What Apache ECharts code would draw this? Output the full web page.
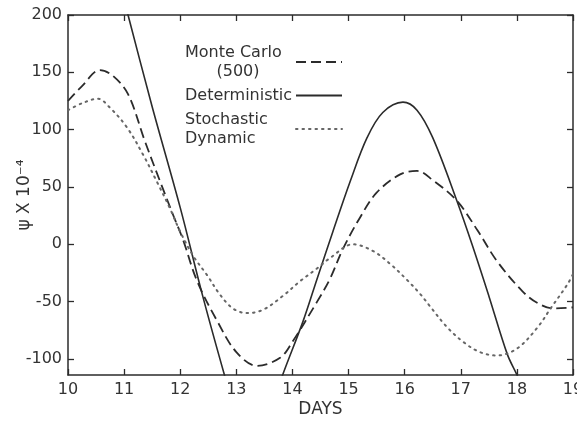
<!DOCTYPE html>
<html>
<head>
<meta charset="utf-8">
<script src="https://cdn.jsdelivr.net/npm/echarts@6/dist/echarts.min.js"></script>
<style>html,body{margin:0;padding:0;background:#fff;}#c{width:577px;height:425px;}</style>
</head>
<body>
<div id="c"></div>
<script>
// ---- data ----
const xTicks = [10, 11, 12, 13, 14, 15, 16, 17, 18, 19];
const yTicks = [-100, -50, 0, 50, 100, 150, 200];

const mcDays = [10.0, 10.25, 10.57, 10.8, 11.07, 11.37, 11.64, 11.87, 12.05, 12.3, 12.66, 13.0, 13.37, 13.78, 14.0, 14.44, 14.67, 14.9, 15.2, 15.5, 15.92, 16.22, 16.5, 16.93, 17.3, 17.65, 18.1, 18.36, 18.65, 19.0];
const mcVals = [125, 138, 152, 147, 131, 90, 55, 26, 4, -32, -67, -94, -106, -99, -85, -50, -30, -4, 23, 45, 61, 64, 56, 38, 12, -15, -41, -51, -56, -55];

const detDays = [10.9, 11.07, 11.5, 12.0, 12.4, 12.8, 12.95, 13.3, 13.65, 13.81, 14.19, 14.44, 14.72, 15.03, 15.33, 15.61, 15.97, 16.22, 16.5, 16.93, 17.2, 17.5, 17.83, 18.02, 18.2];
const detVals = [232, 200, 120, 32, -45, -116, -140, -165, -140, -116, -67, -30, 11, 55, 93, 115, 124, 117, 93, 38, 0, -45, -96, -116, -140];

const sdDays = [10.0, 10.25, 10.53, 10.75, 11.05, 11.34, 11.59, 11.82, 12.0, 12.23, 12.48, 12.71, 12.94, 13.19, 13.48, 13.83, 14.14, 14.44, 14.67, 15.08, 15.44, 15.74, 16.04, 16.27, 16.45, 16.75, 17.04, 17.34, 17.64, 18.0, 18.36, 18.6, 18.9, 19.0];
const sdVals = [117, 123, 127, 119, 102, 78, 54, 31, 11, -10, -27, -44, -56, -60, -57, -45, -32, -21, -12, 0, -6, -17, -31, -43, -54, -72, -85, -94, -97, -91, -73, -56, -35, -26];

const seriesNames = ['Monte Carlo\n(500)', 'Deterministic', 'Stochastic\nDynamic'];

function pairs(xs, ys) { return xs.map((x, i) => [x, ys[i]]); }

const font = 'DejaVu Sans';
const ink = '#2b2b2b';
const txt = '#333';

const chart = echarts.init(document.getElementById('c'), null, {renderer: 'canvas'});
const axisCommon = {
  axisLine: {show: true, onZero: false, lineStyle: {color: ink, width: 1.5}},
  axisTick: {show: true, inside: true, length: 6, lineStyle: {color: ink, width: 1.3}},
  splitLine: {show: false}
};
function legendText(name) {
  const parts = name.split('\n');
  if (parts.length === 1) return '{t|' + parts[0] + '}';
  if (parts[1] === '(500)') return '{t|' + parts[0] + '}\n{c|' + parts[1] + '}';
  return '{t|' + parts[0] + '}\n{t|' + parts[1] + '}';
}
chart.setOption({
  backgroundColor: '#fff',
  animation: false,
  grid: {left: 68, right: 4, top: 15, bottom: 50, containLabel: false, outerBoundsMode: 'none'},
  legend: {
    orient: 'vertical', left: 180, top: 38, align: 'right',
    itemWidth: 46, itemHeight: 12, itemGap: 5,
    itemStyle: {color: 'rgba(0,0,0,0)', borderWidth: 0, opacity: 0},
    textStyle: {fontFamily: font, fontSize: 16, color: txt, lineHeight: 19,
      rich: {
        t: {fontFamily: font, fontSize: 16, color: txt, width: 106, align: 'left', lineHeight: 19},
        c: {fontFamily: font, fontSize: 16, color: txt, width: 100, align: 'center', lineHeight: 19}
      }},
    formatter: legendText,
    data: seriesNames
  },
  xAxis: [
    Object.assign({}, axisCommon, {
      type: 'value', min: 10, max: 19, interval: 1, position: 'bottom',
      name: 'DAYS', nameLocation: 'middle', nameGap: 26, nameMoveOverlap: false,
      nameTextStyle: {fontFamily: font, fontSize: 17, color: txt},
      axisLabel: {fontFamily: font, fontSize: 16, color: txt, margin: 7,
        formatter: v => xTicks.includes(v) ? String(v) : ''}
    }),
    Object.assign({}, axisCommon, {
      type: 'value', min: 10, max: 19, interval: 1, position: 'top',
      axisLabel: {show: false}
    })
  ],
  yAxis: [
    Object.assign({}, axisCommon, {
      type: 'value', min: -114, max: 200, position: 'left',
      name: 'ψ X 10⁻⁴', nameLocation: 'middle', nameGap: 35, nameMoveOverlap: false,
      nameTextStyle: {fontFamily: font, fontSize: 17, color: txt},
      axisTick: Object.assign({}, axisCommon.axisTick, {customValues: yTicks}),
      axisLabel: {fontFamily: font, fontSize: 16, color: txt, margin: 6, customValues: yTicks}
    }),
    Object.assign({}, axisCommon, {
      type: 'value', min: -114, max: 200, position: 'right',
      axisTick: Object.assign({}, axisCommon.axisTick, {customValues: yTicks}),
      axisLabel: {show: false}
    })
  ],
  series: [
    {
      name: seriesNames[0], type: 'line', smooth: 0.35, symbol: 'none', symbolSize: 0, clip: true,
      data: pairs(mcDays, mcVals),
      lineStyle: {color: ink, width: 1.8, type: [10, 5]}, itemStyle: {color: ink}
    },
    {
      name: seriesNames[1], type: 'line', smooth: 0.35, symbol: 'none', symbolSize: 0, clip: true,
      data: pairs(detDays, detVals),
      lineStyle: {color: ink, width: 1.6, type: 'solid'}, itemStyle: {color: ink}
    },
    {
      name: seriesNames[2], type: 'line', smooth: 0.35, symbol: 'none', symbolSize: 0, clip: true,
      data: pairs(sdDays, sdVals),
      lineStyle: {color: '#666', width: 2, type: [1.5, 5], cap: 'round'}, itemStyle: {color: '#666'}
    }
  ]
});
</script>
</body>
</html>
